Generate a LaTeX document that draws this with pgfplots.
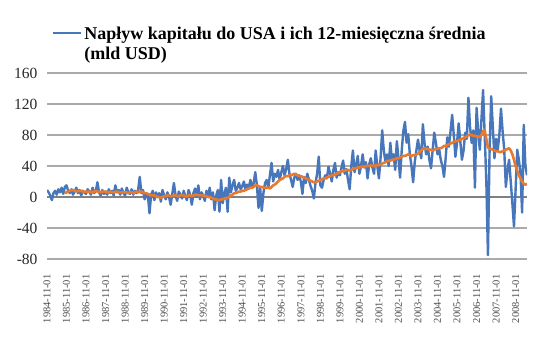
\documentclass[border=0pt]{standalone}
\usepackage{fontspec}
\setmainfont{Liberation Serif}
\usepackage{pgfplots}
\pgfplotsset{compat=1.18}
\usepackage{pgfplotstable}
\definecolor{blueS}{RGB}{72,118,186}
\definecolor{orangeS}{RGB}{232,122,48}
\definecolor{gridc}{RGB}{170,170,170}
\definecolor{zeroc}{RGB}{128,128,128}

% monthly inflows, from 1984-11 (index 0)
\pgfplotstableread[row sep=\\]{
v\\
9\\6\\2\\-4\\5\\8\\3\\10\\6\\12\\4\\13\\
15\\8\\5\\10\\3\\7\\12\\5\\9\\2\\8\\6\\
4\\10\\7\\3\\12\\5\\8\\19\\6\\2\\9\\4\\
7\\3\\10\\5\\8\\2\\15\\6\\9\\3\\11\\5\\
2\\12\\6\\4\\10\\3\\8\\5\\9\\26\\5\\9\\
-3\\4\\2\\-21\\3\\8\\-4\\6\\0\\5\\-6\\9\\
2\\-3\\6\\0\\-10\\4\\18\\2\\-5\\7\\3\\-2\\
8\\1\\-4\\9\\3\\-10\\5\\11\\0\\15\\-3\\6\\
2\\-5\\8\\0\\12\\-3\\6\\-17\\2\\9\\-19\\22\\
-8\\5\\12\\-19\\25\\6\\15\\22\\8\\12\\18\\10\\
14\\20\\9\\16\\11\\22\\13\\18\\32\\15\\-14\\12\\
-18\\5\\18\\22\\12\\28\\44\\20\\30\\26\\35\\22\\
32\\40\\28\\36\\48\\30\\22\\13\\25\\30\\22\\28\\
20\\4\\26\\18\\30\\22\\14\\8\\-2\\18\\30\\52\\
15\\12\\22\\28\\24\\39\\30\\20\\35\\44\\25\\32\\
28\\38\\47\\30\\36\\22\\10\\40\\60\\32\\42\\53\\
30\\40\\55\\38\\45\\24\\42\\50\\38\\30\\60\\40\\
24\\50\\86\\60\\45\\55\\40\\70\\48\\55\\35\\72\\
50\\25\\60\\85\\97\\70\\81\\55\\40\\19\\45\\60\\
74\\60\\50\\94\\70\\55\\65\\48\\37\\60\\83\\70\\
55\\62\\48\\40\\26\\50\\77\\65\\85\\106\\80\\52\\
70\\95\\72\\48\\60\\83\\75\\128\\90\\70\\86\\12\\
115\\85\\61\\100\\138\\80\\20\\-75\\60\\130\\90\\50\\
75\\61\\80\\114\\85\\61\\13\\35\\48\\20\\-8\\-38\\
10\\61\\48\\30\\-20\\93\\40\\28\\
}\bluedata

% 12-month average, from index 11
\pgfplotstableread[row sep=\\]{
v\\
5\\6\\7\\8\\9\\9\\8\\8\\7\\8\\8\\7\\7\\
7\\7\\7\\6\\7\\7\\8\\7\\7\\6\\7\\7\\
7\\6\\6\\7\\6\\6\\7\\7\\6\\6\\6\\6\\
6\\6\\5\\6\\6\\5\\6\\7\\6\\7\\7\\6\\
5\\5\\4\\3\\2\\2\\2\\1\\0\\0\\-1\\0\\
1\\1\\2\\2\\1\\1\\2\\2\\1\\1\\2\\2\\
2\\1\\1\\2\\2\\1\\2\\3\\3\\2\\2\\2\\
2\\1\\1\\0\\0\\-1\\-2\\-3\\-3\\-4\\-4\\-3\\
-3\\-2\\-2\\-1\\0\\2\\3\\5\\5\\6\\7\\7\\
8\\8\\9\\10\\11\\12\\12\\13\\15\\15\\14\\13\\
13\\12\\12\\12\\12\\11\\13\\15\\16\\18\\20\\22\\
23\\24\\26\\27\\27\\28\\28\\29\\30\\29\\28\\27\\
27\\26\\25\\24\\23\\22\\21\\20\\19\\19\\20\\21\\
22\\23\\24\\24\\25\\26\\27\\28\\28\\29\\30\\31\\
32\\33\\33\\34\\35\\35\\34\\35\\36\\37\\37\\38\\
38\\39\\39\\39\\40\\40\\40\\41\\40\\40\\41\\41\\
41\\42\\43\\44\\45\\46\\47\\47\\48\\48\\49\\50\\
50\\51\\52\\53\\53\\54\\55\\54\\53\\54\\54\\55\\
56\\58\\60\\62\\63\\62\\62\\61\\61\\60\\61\\62\\
62\\63\\63\\64\\66\\66\\67\\68\\69\\70\\71\\72\\
72\\73\\74\\75\\76\\77\\78\\80\\80\\80\\79\\79\\
78\\78\\77\\80\\85\\86\\75\\64\\62\\62\\61\\60\\
59\\59\\58\\58\\59\\60\\61\\62\\63\\60\\55\\48\\
40\\34\\28\\24\\20\\17\\16\\17\\
}\orangedata

\begin{document}
\begin{tikzpicture}
\path[use as bounding box] (0,0) rectangle (551pt,348pt);
\begin{axis}[
  at={(47pt,89pt)}, anchor=south west,
  scale only axis, width=480pt, height=186pt,
  xmin=0, xmax=295, ymin=-80, ymax=160,
  ytick={-80,-40,...,160},
  xtick={0,12,...,288},
  xticklabels={1984-11-01,1985-11-01,1986-11-01,1987-11-01,1988-11-01,1989-11-01,1990-11-01,1991-11-01,1992-11-01,1993-11-01,1994-11-01,1995-11-01,1996-11-01,1997-11-01,1998-11-01,1999-11-01,2000-11-01,2001-11-01,2002-11-01,2003-11-01,2004-11-01,2005-11-01,2006-11-01,2007-11-01,2008-11-01},
  axis line style={draw=none},
  major tick length=0pt,
  ymajorgrids,
  major grid style={gridc, line width=1.3pt},
  extra y ticks={0}, extra y tick labels={},
  extra y tick style={grid=major, major grid style={zeroc, line width=2pt}},
  /pgf/number format/assume math mode=true,
  yticklabel style={font=\fontsize{15.5}{15.5}\selectfont, text=black!85, xshift=-6pt},
  xticklabel style={rotate=90, anchor=east, font=\fontsize{10.5}{10.5}\selectfont, text=black!70},
  xticklabel shift=12pt,
  legend style={draw=none, fill=none, at={(0.01,1.268)}, anchor=north west,
    font=\bfseries\fontsize{18}{20}\selectfont, inner sep=0pt},
  legend cell align=left,
  legend image code/.code={\draw[#1] (0pt,0pt) -- (28pt,0pt); \path (0pt,6pt);},
]
\addplot[blueS, line width=2.4pt, line join=round] table[x expr=\coordindex, y=v]{\bluedata};
\addlegendentry{\begin{tabular}[t]{@{}l@{}}Napływ kapitału do USA i ich 12-miesięczna średnia\\(mld USD)\end{tabular}}
\addplot[orangeS, line width=2.6pt, line join=round, forget plot] table[x expr=\coordindex+11, y=v]{\orangedata};
\end{axis}
\end{tikzpicture}
\end{document}
